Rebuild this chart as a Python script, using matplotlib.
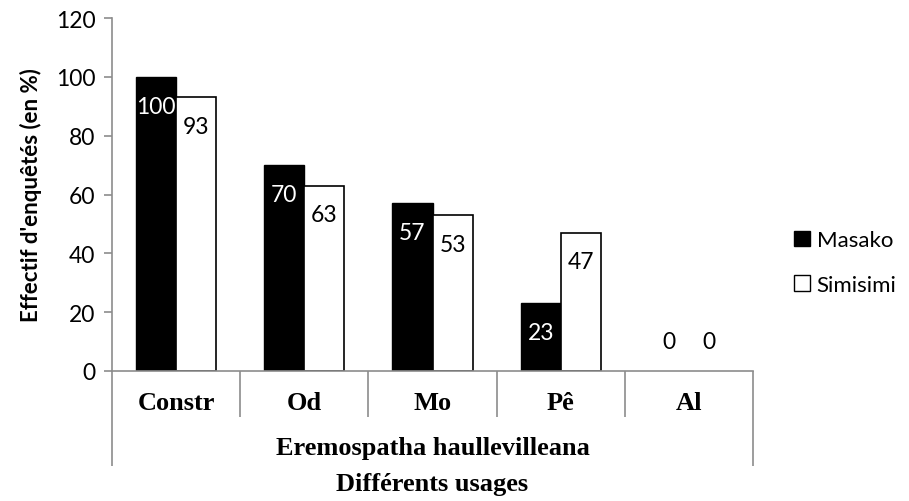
import numpy as np
import matplotlib
matplotlib.use("Agg")
from matplotlib import pyplot as plt
from matplotlib.patches import Patch
from matplotlib.transforms import blended_transform_factory

# --- Data
usages = ["Constr", "Od", "Mo", "Pê", "Al"]
group_label = "Eremospatha haullevilleana"
masako = [100, 70, 57, 23, 0]
simisimi = [93, 63, 53, 47, 0]
yticks = [0, 20, 40, 60, 80, 100, 120]

sans = "Lato"
serif = "Liberation Serif"
grey = "#8c8c8c"

fig = plt.figure(figsize=(9.09, 5.02), dpi=100)
ax = fig.add_axes([0.1232, 0.259, 0.7052, 0.703])

x = np.arange(len(usages))
w = 0.3125
lw1 = [1 if v > 0 else 0 for v in masako]
lw2 = [1.2 if v > 0 else 0 for v in simisimi]
b1 = ax.bar(x - w / 2, masako, w, color="black", edgecolor="black", linewidth=lw1)
b2 = ax.bar(x + w / 2, simisimi, w, color="white", edgecolor="black", linewidth=lw2)

# --- Data labels (inside end, like excel)
for bars, vals, col in [(b1, masako, "white"), (b2, simisimi, "black")]:
    for r, v in zip(bars, vals):
        dy = -21 if v > 0 else 21
        c = col if v > 0 else "black"
        ax.annotate(str(v), (r.get_x() + r.get_width() / 2, v),
                    xytext=(0, dy), textcoords="offset points",
                    ha="center", va="center", color=c,
                    fontsize=16.5, family=sans)

ax.set_xlim(-0.5, len(usages) - 0.5)
ax.set_ylim(0, 120)
ax.set_yticks(yticks)
ax.tick_params(axis="y", colors=grey, labelcolor="black", labelsize=16.5,
               length=6, width=1.2, pad=6)
for lab in ax.get_yticklabels():
    lab.set_family(sans)
ax.set_xticks([])

for s in ["top", "right"]:
    ax.spines[s].set_visible(False)
for s in ["left", "bottom"]:
    ax.spines[s].set_color(grey)
    ax.spines[s].set_linewidth(1.2)

ax.set_ylabel("Effectif d'enquêtés (en %)", family=sans, fontweight="bold",
              fontsize=16, labelpad=10)

# --- Multi-level category axis
tr = blended_transform_factory(ax.transData, ax.transAxes)
edges = np.arange(len(usages) + 1) - 0.5
for i, e in enumerate(edges):
    low = -0.269 if i in (0, len(edges) - 1) else -0.130
    ax.plot([e, e], [0, low], transform=tr, color=grey, lw=1.2,
            clip_on=False, solid_capstyle="butt")
for xi, name in zip(x, usages):
    ax.text(xi, -0.088, name, transform=tr, ha="center", va="center",
            family=serif, fontweight="bold", fontsize=19)
ax.text(np.mean(x), -0.218, group_label, transform=tr, ha="center",
        va="center", family=serif, fontweight="bold", fontsize=19)
ax.text(np.mean(x), -0.32, "Différents usages", transform=tr, ha="center",
        va="center", family=serif, fontweight="bold", fontsize=19)

# --- Legend
handles = [Patch(facecolor="black", edgecolor="black", label="Masako"),
           Patch(facecolor="white", edgecolor="black", label="Simisimi")]
fig.legend(handles=handles, loc="center left", bbox_to_anchor=(0.874, 0.475),
           frameon=False, borderpad=0, borderaxespad=0,
           handlelength=0.7, handleheight=0.7,
           handletextpad=0.3, labelspacing=1.1,
           prop={"family": sans, "size": 16})

fig.savefig("out.png", dpi=100)
